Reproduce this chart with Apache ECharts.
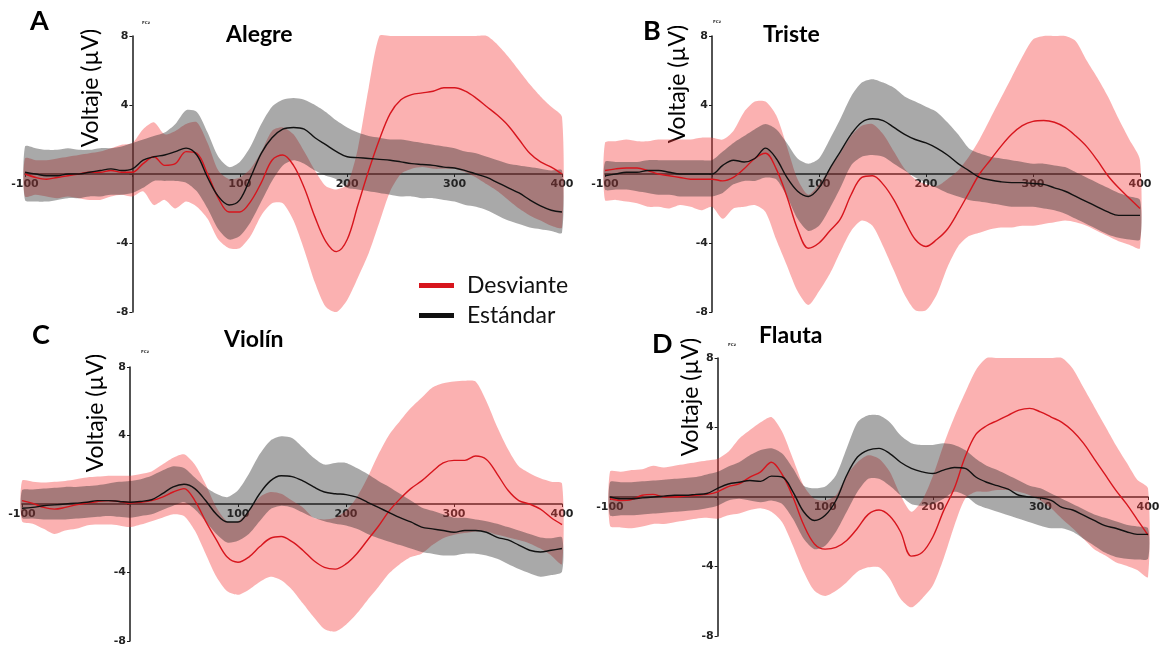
<!DOCTYPE html>
<html>
<head>
<meta charset="utf-8">
<script src="https://cdn.jsdelivr.net/npm/echarts@6/dist/echarts.min.js"></script>
<style>
html, body { margin: 0; padding: 0; background: #fff; }
#chart { width: 1168px; height: 649px; }
</style>
</head>
<body>
<div id="chart"></div>
<script>
// tiempo (ms)
var times = [-100,-90,-80,-70,-60,-50,-40,-30,-20,-10,0,10,20,30,40,50,60,70,80,90,100,110,120,130,140,150,160,170,180,190,200,210,220,230,240,250,260,270,280,290,300,310,320,330,340,350,360,370,380,390,400];
var xTicks = [-100, 100, 200, 300, 400];
var yTicks = [-8, -4, 4, 8];

// A - Alegre
var alegreDesv   = [0.0,-0.2,-0.3,-0.2,-0.1,0.0,0.1,0.1,0.2,0.1, 0.1,0.6,1.0,0.5,0.6,1.3,1.2,0.0,-1.4,-2.2, -2.2,-1.6,-0.5,0.8,1.1,0.5,-0.8,-2.5,-3.9,-4.5, -3.8,-1.8,0.2,2.0,3.5,4.3,4.6,4.7,4.8,5.0, 5.0,4.8,4.4,3.9,3.4,2.8,2.0,1.2,0.7,0.4, 0.0];
var alegreDesvUp = [0.9,0.8,0.8,0.9,1.0,1.1,1.2,1.3,1.5,1.7, 1.8,2.6,3.0,2.3,2.5,2.9,3.0,1.8,0.2,-0.3, -0.2,0.3,1.3,2.5,2.7,2.3,1.3,0.2,-0.7,-0.9, -0.6,1.5,5.0,8.5,9,9,9,9,9,9, 9,9,8.8,8.2,7.5,6.8,6.0,5.2,4.5,3.9, 3.3];
var alegreDesvLo = [-1.3,-1.2,-1.3,-1.4,-1.3,-1.4,-1.5,-1.5,-1.3,-1.2, -1.3,-1.0,-1.8,-1.5,-2.0,-1.6,-1.9,-2.6,-3.8,-4.3, -4.3,-3.6,-2.4,-1.7,-1.7,-2.7,-4.4,-6.3,-7.7,-8.1, -7.3,-6.0,-4.6,-2.8,-1.0,0.0,0.3,0.4,0.3,0.3, 0.3,0.1,-0.2,-0.6,-1.0,-1.5,-2.0,-2.4,-2.7,-3.0, -3.1];
var alegreEst    = [0.1,0.0,-0.1,-0.1,0.0,0.0,0.1,0.2,0.3,0.2, 0.3,0.8,1.0,1.1,1.3,1.5,1.1,-0.2,-1.3,-1.8, -1.5,-0.2,1.2,2.1,2.6,2.7,2.6,2.1,1.7,1.3, 1.0,0.95,0.9,0.85,0.8,0.7,0.6,0.55,0.5,0.4, 0.35,0.2,0.0,-0.2,-0.5,-0.8,-1.1,-1.5,-1.85,-2.1, -2.2];
var alegreEstUp  = [1.6,1.5,1.4,1.4,1.5,1.4,1.4,1.5,1.5,1.6, 1.8,2.0,2.2,2.4,2.9,3.7,3.6,2.4,1.0,0.4, 0.7,1.6,2.9,3.9,4.3,4.4,4.3,4.0,3.6,3.1, 2.7,2.4,2.2,2.1,2.0,2.0,1.9,1.8,1.7,1.6, 1.5,1.3,1.2,1.0,0.8,0.6,0.5,0.4,0.3,0.2, 0.2];
var alegreEstLo  = [-1.5,-1.6,-1.6,-1.5,-1.4,-1.4,-1.3,-1.3,-1.2,-1.2, -1.1,-0.8,-0.4,-0.4,-0.4,-0.5,-1.0,-2.0,-3.2,-3.8, -3.6,-2.8,-1.6,-0.4,0.5,0.8,0.6,0.2,-0.1,-0.3, -0.8,-0.9,-1.0,-1.1,-1.2,-1.3,-1.3,-1.4,-1.4,-1.5, -1.6,-1.8,-1.9,-2.1,-2.4,-2.7,-2.9,-3.1,-3.2,-3.3, -3.4];

// B - Triste
var tristeDesv   = [0.2,0.3,0.35,0.35,0.2,0.0,-0.1,-0.2,-0.3,-0.3, -0.3,-0.4,-0.2,0.3,0.9,1.2,0.3,-1.3,-3.2,-4.3, -4.0,-3.3,-2.6,-1.2,-0.2,-0.1,-0.6,-1.5,-2.7,-3.8, -4.2,-3.8,-3.2,-2.2,-1.1,0.0,0.8,1.6,2.3,2.8, 3.05,3.1,3.0,2.7,2.2,1.6,0.8,-0.1,-0.8,-1.4, -2.0];
var tristeDesvUp = [1.8,1.9,2.0,1.9,1.9,2.0,2.0,2.0,2.0,2.1, 2.1,2.0,2.5,3.6,4.2,4.2,3.4,1.6,-0.3,-1.2, -0.6,0.3,1.2,2.2,2.8,2.9,2.3,1.3,0.3,-0.3, -0.6,-0.7,-0.3,0.2,1.0,2.0,3.2,4.4,5.6,6.8, 7.8,8.3,8.5,8.3,7.7,6.6,5.6,4.5,3.2,2.0, 0.8];
var tristeDesvLo = [-1.5,-1.5,-1.6,-1.7,-1.9,-1.9,-2.0,-1.8,-1.9,-2.1, -1.9,-2.6,-2.0,-1.9,-1.8,-2.2,-3.8,-5.3,-6.8,-7.6, -6.8,-5.8,-4.5,-3.3,-2.7,-3.0,-4.2,-5.6,-7.0,-7.9, -7.9,-7.0,-5.4,-4.2,-3.6,-3.4,-3.2,-3.1,-3.1,-3.0, -3.0,-2.9,-2.8,-2.7,-2.8,-3.0,-3.3,-3.6,-3.9,-4.1, -4.3];
var tristeEst    = [-0.1,0.0,0.1,0.1,0.2,0.2,0.1,0.0,0.0,0.0, 0.0,0.5,0.8,0.7,0.9,1.5,0.9,-0.2,-1.0,-1.3, -0.8,0.3,1.3,2.3,3.0,3.2,3.1,2.7,2.3,2.0, 1.8,1.5,1.1,0.6,0.2,-0.2,-0.35,-0.45,-0.5,-0.5, -0.55,-0.6,-0.8,-1.0,-1.3,-1.6,-1.9,-2.2,-2.4,-2.4, -2.4];
var tristeEstUp  = [0.7,0.7,0.7,0.7,0.8,0.8,0.8,0.8,0.8,0.8, 0.8,1.3,1.8,2.2,2.6,2.9,2.6,1.8,0.9,0.6, 0.9,2.0,3.2,4.5,5.3,5.5,5.3,5.0,4.5,4.2, 3.9,3.6,3.0,2.3,1.5,1.2,1.0,0.9,0.8,0.7, 0.6,0.6,0.5,0.4,0.1,-0.2,-0.5,-0.8,-1.1,-1.3, -1.5];
var tristeEstLo  = [-0.9,-0.9,-0.9,-1.0,-1.1,-1.2,-1.2,-1.3,-1.3,-1.3, -1.3,-1.1,-0.6,-0.4,-0.4,-0.2,-0.3,-1.3,-2.6,-3.3, -3.0,-2.0,-0.8,0.5,1.0,1.1,1.0,0.6,0.2,-0.2, -0.5,-0.8,-1.1,-1.3,-1.5,-1.6,-1.7,-1.8,-1.9,-1.9, -1.9,-2.0,-2.1,-2.3,-2.6,-2.9,-3.2,-3.5,-3.7,-3.8, -3.8];

// C - Violín
var violinDesv   = [0.2,0.04,-0.2,-0.3,-0.2,-0.05,0.05,0.15,0.2,0.15, 0.05,0.1,0.2,0.4,0.7,0.9,0.2,-1.0,-2.1,-3.1, -3.4,-3.1,-2.5,-2.0,-1.9,-2.2,-2.7,-3.3,-3.7,-3.8, -3.5,-2.9,-2.1,-1.3,-0.4,0.3,0.9,1.35,1.9,2.4, 2.55,2.55,2.8,2.6,1.75,0.8,0.2,0.0,-0.3,-0.8, -1.2];
var violinDesvUp = [1.35,1.3,1.25,1.3,1.35,1.45,1.55,1.6,1.65,1.65, 1.65,1.75,1.9,2.3,2.7,2.9,2.3,1.15,-0.2,-1.0, -1.0,-0.4,0.4,0.7,0.6,0.2,-0.2,-0.8,-0.9,-0.8, -0.4,0.4,1.55,2.9,4.05,4.85,5.6,6.2,6.8,7.05, 7.15,7.2,7.15,6.0,4.5,3.2,2.2,1.8,1.5,1.3, 1.2];
var violinDesvLo = [-1.0,-1.15,-1.45,-1.75,-1.55,-1.45,-1.25,-1.2,-1.2,-1.25, -1.35,-1.2,-1.0,-0.8,-0.6,-0.7,-1.55,-2.9,-4.25,-5.1, -5.3,-5.0,-4.55,-4.25,-4.45,-5.0,-5.8,-6.6,-7.3,-7.45, -7.05,-6.4,-5.6,-4.85,-4.05,-3.5,-3.1,-2.9,-2.4,-2.0, -1.8,-1.7,-1.6,-1.6,-1.8,-1.95,-2.1,-2.3,-2.6,-3.0, -3.5];
var violinEst    = [-0.25,-0.2,-0.1,-0.05,0.0,0.05,0.1,0.2,0.2,0.15, 0.1,0.15,0.25,0.6,1.0,1.15,0.9,0.2,-0.6,-1.05, -1.05,-0.4,0.6,1.35,1.65,1.6,1.35,1.0,0.7,0.6, 0.55,0.4,0.1,-0.2,-0.5,-0.8,-1.05,-1.35,-1.45,-1.55, -1.65,-1.55,-1.55,-1.65,-1.95,-2.1,-2.4,-2.7,-2.8,-2.7, -2.6];
var violinEstUp  = [0.8,0.85,0.9,0.95,1.0,1.0,1.05,1.1,1.2,1.3, 1.35,1.45,1.65,1.95,2.2,2.1,1.55,1.0,0.6,0.4, 0.8,1.75,2.9,3.7,3.95,3.85,3.3,2.7,2.3,2.4, 2.4,2.1,1.75,1.35,1.0,0.6,0.2,-0.2,-0.4,-0.6, -0.8,-0.8,-0.9,-1.0,-1.15,-1.35,-1.55,-1.75,-1.95,-2.0, -1.95];
var violinEstLo  = [-0.8,-0.85,-0.9,-0.9,-0.9,-0.85,-0.8,-0.75,-0.7,-0.75, -0.8,-0.7,-0.6,-0.35,-0.1,0.1,-0.3,-1.0,-1.75,-2.25, -2.15,-1.75,-1.0,-0.3,-0.1,-0.2,-0.5,-0.8,-1.0,-1.15, -1.25,-1.45,-1.75,-2.0,-2.2,-2.4,-2.6,-2.8,-2.9,-3.0, -3.0,-2.9,-2.9,-3.0,-3.2,-3.5,-3.8,-4.05,-4.25,-4.15, -3.95];

// D - Flauta
var flautaDesv   = [-0.1,-0.2,-0.15,0.1,0.15,0.0,0.0,0.05,0.1,0.15, 0.3,0.6,0.75,1.15,1.45,2.0,1.3,0.0,-1.6,-2.7, -3.0,-2.9,-2.5,-1.8,-1.0,-0.75,-1.1,-2.0,-3.4,-3.2, -2.3,-0.8,0.5,2.3,3.6,4.1,4.4,4.7,5.0,5.1, 4.9,4.6,4.3,3.8,3.1,2.2,1.3,0.4,-0.4,-1.3, -2.2];
var flautaDesvUp = [1.45,1.45,1.55,1.6,1.8,1.7,1.8,1.9,2.0,2.1, 2.2,2.6,3.35,3.85,4.3,4.6,3.75,2.2,0.65,-0.1, -0.2,0.1,1.25,2.0,2.4,2.2,1.45,0.1,-0.85,-0.2, 1.2,3.0,4.6,6.0,7.3,8.2,9,9,9,9, 9,9,9,7.4,6.3,5.2,4.1,3.0,2.0,1.0, 0.5];
var flautaDesvLo = [-1.65,-1.75,-1.8,-1.7,-1.55,-1.55,-1.45,-1.35,-1.25,-1.2, -1.25,-1.05,-0.95,-0.75,-0.65,-0.85,-1.45,-2.8,-4.3,-5.4, -5.7,-5.4,-4.9,-4.3,-4.05,-4.05,-4.7,-5.85,-6.35,-5.85, -5.1,-3.55,-1.65,-0.1,0.3,0.3,0.4,0.4,0.3,0.1, -0.2,-0.65,-1.25,-1.8,-2.4,-3.0,-3.35,-3.75,-3.95,-4.2, -4.6];
var flautaEst    = [0.0,-0.1,-0.1,-0.05,0.0,0.05,0.1,0.1,0.15,0.2, 0.5,0.75,0.85,0.95,0.9,1.2,1.15,0.3,-0.85,-1.35, -1.05,-0.2,1.25,2.3,2.7,2.8,2.5,2.0,1.65,1.45, 1.35,1.55,1.7,1.65,1.15,0.85,0.65,0.45,0.1,0.0, -0.05,-0.2,-0.6,-0.75,-1.05,-1.35,-1.65,-1.8,-2.0,-2.15, -2.15];
var flautaEstUp  = [0.85,0.85,0.85,0.9,0.95,1.0,1.05,1.1,1.15,1.3, 1.45,1.75,2.0,2.4,2.7,2.8,2.5,1.65,0.65,0.5, 0.6,1.25,2.8,4.3,4.7,4.7,4.3,3.55,3.1,3.0, 3.0,3.1,3.0,2.7,2.2,1.8,1.55,1.25,0.95,0.65, 0.5,0.2,-0.1,-0.4,-0.7,-1.0,-1.2,-1.4,-1.6,-1.7, -1.8];
var flautaEstLo  = [-1.05,-1.05,-1.05,-1.0,-0.95,-0.9,-0.85,-0.8,-0.75,-0.65, -0.5,-0.2,-0.1,-0.2,-0.3,-0.2,-0.4,-1.25,-2.4,-3.0, -2.8,-2.0,-0.85,0.3,1.05,1.05,0.65,0.1,-0.4,-0.5, -0.4,-0.1,0.3,0.1,-0.4,-0.65,-0.85,-1.05,-1.25,-1.45, -1.65,-1.8,-1.8,-2.0,-2.4,-2.8,-3.2,-3.45,-3.55,-3.6, -3.55];

var panels = [
    {letter: 'A', title: 'Alegre', desv: alegreDesv, desvUp: alegreDesvUp, desvLo: alegreDesvLo, est: alegreEst, estUp: alegreEstUp, estLo: alegreEstLo},
    {letter: 'B', title: 'Triste', desv: tristeDesv, desvUp: tristeDesvUp, desvLo: tristeDesvLo, est: tristeEst, estUp: tristeEstUp, estLo: tristeEstLo},
    {letter: 'C', title: 'Violín', desv: violinDesv, desvUp: violinDesvUp, desvLo: violinDesvLo, est: violinEst, estUp: violinEstUp, estLo: violinEstLo},
    {letter: 'D', title: 'Flauta', desv: flautaDesv, desvUp: flautaDesvUp, desvLo: flautaDesvLo, est: flautaEst, estUp: flautaEstUp, estLo: flautaEstLo}
];

// layout of the four panels
var grids = [
    {left: 25, top: 36, width: 537, height: 276},
    {left: 605, top: 36, width: 535, height: 276},
    {left: 22, top: 367, width: 540, height: 274},
    {left: 610, top: 358, width: 538, height: 278}
];
var letterPos = [[25, 3], [638, 13], [27, 317], [647, 326]];
var titlePos = [[221, 18], [758, 18], [219, 323], [754, 319]];
var yNamePos = [[91, 88], [678, 84], [96, 413], [691, 397]];
var fcPos = [[146, 23], [717, 22], [145, 352], [732, 345]];

var RED = '#d7151d';
var BLACK = '#111111';
var PINK = 'rgba(245,60,60,0.40)';
var GRAY = 'rgba(40,40,40,0.40)';

var myChart = echarts.init(document.getElementById('chart'));

var xAxes = [], yAxes = [], series = [], titles = [], graphics = [];
var axisColor = '#1a1a1a';
var tickLabel = {
    fontFamily: 'DejaVu Sans',
    fontWeight: 'bold',
    fontSize: 11,
    color: '#222'
};

// banda (media +/- error) dibujada como un poligono con las escalas del eje
function bandSeries(i, lo, up, color, z) {
    return {
        type: 'custom', xAxisIndex: i, yAxisIndex: i, silent: true, z: z,
        data: times.map(function (t, k) { return [t, lo[k], up[k]]; }),
        renderItem: function (params, api) {
            if (params.dataIndex !== 0) return null;
            var pts = [];
            for (var k = 0; k < times.length; k++) pts.push(api.coord([times[k], up[k]]));
            for (var k = times.length - 1; k >= 0; k--) pts.push(api.coord([times[k], lo[k]]));
            var cs = params.coordSys;
            pts = echarts.graphic.clipPointsByRect(pts, {x: cs.x, y: cs.y, width: cs.width, height: cs.height});
            return {
                type: 'polygon',
                shape: {points: pts, smooth: 0.25},
                style: {fill: color, stroke: null}
            };
        }
    };
}

panels.forEach(function (p, i) {
    var g = grids[i];
    xAxes.push({
        type: 'value', gridIndex: i, min: -100, max: 400, interval: 100,
        offset: -g.height / 2,
        axisLine: {onZero: false, lineStyle: {color: axisColor, width: 1.5}},
        axisTick: {show: true, length: 3, lineStyle: {color: axisColor}},
        axisLabel: Object.assign({
            margin: 5,
            formatter: function (v) { return xTicks.indexOf(v) >= 0 ? String(v) : ''; }
        }, tickLabel),
        splitLine: {show: false}
    });
    yAxes.push({
        type: 'value', gridIndex: i, min: -8, max: 8, interval: 4,
        offset: -g.width / 5,
        axisLine: {show: true, onZero: false, lineStyle: {color: axisColor, width: 1.5}},
        axisTick: {show: true, length: 3, lineStyle: {color: axisColor}},
        axisLabel: Object.assign({
            margin: 4,
            formatter: function (v) { return yTicks.indexOf(v) >= 0 ? String(v) : ''; }
        }, tickLabel),
        splitLine: {show: false}
    });

    series.push(bandSeries(i, p.desvLo, p.desvUp, PINK, 1));
    series.push(bandSeries(i, p.estLo, p.estUp, GRAY, 2));

    var base = {type: 'line', xAxisIndex: i, yAxisIndex: i, showSymbol: false, silent: true, smooth: 0.35, z: 4};
    series.push(Object.assign({}, base, {
        name: 'Desviante', color: RED,
        lineStyle: {color: RED, width: 1.4},
        data: times.map(function (t, k) { return [t, p.desv[k]]; })
    }));
    series.push(Object.assign({}, base, {
        name: 'Estándar', color: BLACK,
        lineStyle: {color: BLACK, width: 1.4},
        data: times.map(function (t, k) { return [t, p.est[k]]; })
    }));

    titles.push({
        text: p.letter, left: letterPos[i][0], top: letterPos[i][1],
        textStyle: {fontFamily: 'Lato', fontWeight: 'bold', fontSize: 27, color: '#000'}
    });
    titles.push({
        text: p.title, left: titlePos[i][0], top: titlePos[i][1],
        textStyle: {fontFamily: 'Lato', fontWeight: 'bold', fontSize: 23, color: '#000'}
    });

    graphics.push({
        type: 'text', x: yNamePos[i][0], y: yNamePos[i][1], rotation: Math.PI / 2,
        style: {text: 'Voltaje (µV)', font: '23px Lato', fill: '#000', textAlign: 'center', textVerticalAlign: 'middle'}
    });
    graphics.push({
        type: 'text', x: fcPos[i][0], y: fcPos[i][1],
        style: {text: 'FCz', font: 'bold 4px DejaVu Sans', fill: '#333', textAlign: 'center', textVerticalAlign: 'middle'}
    });
});

option = {
    animation: false,
    backgroundColor: '#fff',
    title: titles,
    grid: grids,
    xAxis: xAxes,
    yAxis: yAxes,
    legend: {
        orient: 'vertical',
        left: 414, top: 269,
        icon: 'rect',
        itemWidth: 35, itemHeight: 5,
        itemGap: 7,
        textStyle: {fontFamily: 'Lato', fontSize: 23, color: '#111', padding: [0, 0, 0, 8]},
        data: [
            {name: 'Desviante', itemStyle: {color: RED}},
            {name: 'Estándar', itemStyle: {color: BLACK}}
        ],
        selectedMode: false
    },
    graphic: graphics,
    series: series
};
myChart.setOption(option);
</script>
</body>
</html>
